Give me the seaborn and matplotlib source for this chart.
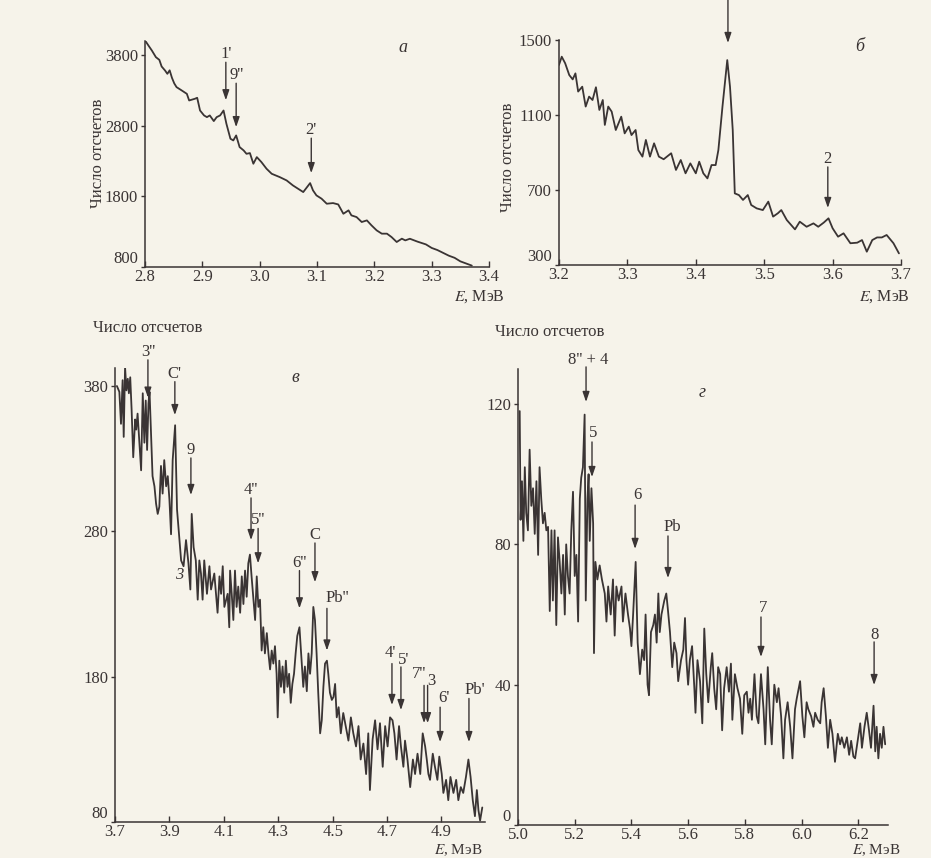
import matplotlib
matplotlib.use("Agg")
import matplotlib.pyplot as plt
import numpy as np
import pandas as pd
import seaborn as sns

# ---------------- spectra (energy in MeV, counts) ----------------
a_energy = [2.801, 2.806, 2.812, 2.819, 2.825, 2.829, 2.835, 2.839, 2.843, 2.847,
            2.851, 2.855, 2.864, 2.873, 2.877, 2.887, 2.891, 2.896, 2.903, 2.908,
            2.913, 2.920, 2.925, 2.931, 2.937, 2.942, 2.949, 2.954, 2.959, 2.965,
            2.972, 2.977, 2.983, 2.989, 2.995, 3.003, 3.012, 3.021, 3.035, 3.047,
            3.058, 3.067, 3.076, 3.088, 3.093, 3.099, 3.108, 3.117, 3.128, 3.137,
            3.146, 3.155, 3.160, 3.169, 3.178, 3.187, 3.195, 3.204, 3.213, 3.222,
            3.230, 3.239, 3.248, 3.254, 3.262, 3.275, 3.290, 3.300, 3.310, 3.320,
            3.330, 3.340, 3.350, 3.360, 3.370]
a_counts = [3997, 3936, 3865, 3771, 3733, 3639, 3582, 3535, 3585, 3479,
            3400, 3347, 3300, 3252, 3158, 3182, 3196, 3016, 2946, 2922,
            2946, 2866, 2922, 2946, 3016, 2828, 2616, 2592, 2663, 2498,
            2451, 2403, 2413, 2262, 2356, 2286, 2191, 2120, 2073, 2026,
            1955, 1908, 1861, 1988, 1885, 1814, 1767, 1696, 1705, 1686,
            1554, 1602, 1531, 1507, 1437, 1460, 1390, 1319, 1272, 1272,
            1224, 1154, 1201, 1177, 1200, 1160, 1120, 1070, 1040, 1000,
            960, 930, 880, 850, 820]

b_energy = [3.200, 3.204, 3.209, 3.215, 3.220, 3.224, 3.228, 3.234, 3.239, 3.244,
            3.249, 3.254, 3.259, 3.264, 3.267, 3.272, 3.277, 3.283, 3.291, 3.296,
            3.302, 3.306, 3.312, 3.316, 3.322, 3.327, 3.333, 3.339, 3.346, 3.353,
            3.364, 3.371, 3.378, 3.385, 3.392, 3.400, 3.405, 3.411, 3.417, 3.423,
            3.429, 3.433, 3.439, 3.446, 3.450, 3.454, 3.457, 3.463, 3.469, 3.476,
            3.481, 3.489, 3.498, 3.506, 3.513, 3.520, 3.525, 3.533, 3.545, 3.552,
            3.562, 3.572, 3.579, 3.587, 3.594, 3.600, 3.608, 3.616, 3.626, 3.636,
            3.643, 3.650, 3.658, 3.665, 3.672, 3.679, 3.689, 3.697]
b_counts = [1367, 1411, 1376, 1313, 1290, 1322, 1225, 1251, 1145, 1198,
            1180, 1248, 1127, 1180, 1047, 1145, 1118, 1020, 1091, 1002,
            1038, 993, 1020, 913, 878, 967, 878, 949, 878, 864,
            896, 807, 860, 789, 842, 789, 851, 789, 762, 833,
            833, 913, 1145, 1393, 1251, 1020, 682, 673, 647, 673,
            620, 602, 593, 638, 558, 576, 593, 540, 490, 531,
            504, 522, 504, 526, 549, 496, 451, 469, 416, 419,
            433, 371, 433, 447, 447, 460, 416, 362]

c_energy = [3.707, 3.716, 3.722, 3.728, 3.732, 3.737, 3.742, 3.747, 3.751, 3.756,
            3.761, 3.767, 3.774, 3.778, 3.783, 3.789, 3.796, 3.802, 3.808, 3.813,
            3.818, 3.823, 3.827, 3.832, 3.838, 3.845, 3.851, 3.857, 3.863, 3.869,
            3.875, 3.881, 3.888, 3.894, 3.900, 3.906, 3.912, 3.921, 3.928, 3.937,
            3.943, 3.952, 3.961, 3.970, 3.977, 3.982, 3.989, 3.997, 4.004, 4.010,
            4.016, 4.022, 4.028, 4.038, 4.047, 4.053, 4.065, 4.077, 4.084, 4.090,
            4.096, 4.102, 4.114, 4.120, 4.123, 4.129, 4.135, 4.141, 4.147, 4.153,
            4.160, 4.166, 4.172, 4.178, 4.184, 4.190, 4.196, 4.202, 4.209, 4.215,
            4.221, 4.227, 4.233, 4.239, 4.245, 4.251, 4.258, 4.264, 4.270, 4.276,
            4.282, 4.288, 4.294, 4.298, 4.304, 4.310, 4.316, 4.322, 4.328, 4.334,
            4.340, 4.346, 4.352, 4.358, 4.364, 4.370, 4.378, 4.386, 4.392, 4.398,
            4.405, 4.411, 4.417, 4.423, 4.429, 4.435, 4.441, 4.447, 4.454, 4.460,
            4.466, 4.472, 4.479, 4.484, 4.490, 4.497, 4.503, 4.509, 4.515, 4.522,
            4.530, 4.539, 4.548, 4.558, 4.567, 4.576, 4.586, 4.595, 4.603, 4.613,
            4.623, 4.631, 4.637, 4.647, 4.656, 4.665, 4.674, 4.684, 4.693, 4.702,
            4.711, 4.720, 4.727, 4.735, 4.744, 4.751, 4.760, 4.766, 4.775, 4.785,
            4.795, 4.803, 4.812, 4.822, 4.831, 4.840, 4.846, 4.852, 4.858, 4.868,
            4.876, 4.885, 4.892, 4.901, 4.907, 4.917, 4.925, 4.933, 4.944, 4.954,
            4.962, 4.971, 4.980, 4.990, 4.999, 5.007, 5.015, 5.023, 5.030, 5.036,
            5.042, 5.050]
c_counts = [380, 376, 354, 384, 345, 393, 377, 385, 375, 386,
            364, 331, 357, 350, 361, 343, 322, 375, 341, 370,
            336, 368, 376, 350, 318, 311, 299, 292, 297, 325,
            306, 329, 311, 318, 302, 278, 329, 353, 295, 274,
            260, 256, 274, 258, 240, 292, 269, 260, 233, 260,
            251, 233, 260, 237, 256, 240, 251, 224, 249, 237,
            256, 228, 237, 214, 253, 237, 219, 253, 228, 242,
            224, 249, 230, 253, 235, 258, 264, 249, 233, 219,
            249, 228, 233, 198, 214, 196, 210, 196, 185, 198,
            189, 201, 182, 152, 191, 173, 187, 169, 191, 173,
            182, 162, 175, 182, 196, 208, 214, 191, 173, 187,
            170, 196, 182, 196, 228, 219, 196, 169, 141, 150,
            173, 189, 191, 182, 169, 164, 166, 175, 152, 159,
            141, 155, 146, 136, 152, 141, 132, 146, 123, 134,
            113, 141, 102, 137, 150, 130, 148, 118, 146, 132,
            152, 150, 141, 123, 146, 132, 118, 136, 123, 104,
            123, 113, 127, 113, 141, 132, 123, 113, 109, 127,
            118, 109, 125, 113, 100, 109, 95, 111, 100, 109,
            95, 104, 100, 111, 123, 111, 95, 84, 102, 88,
            81, 90]

d_energy = [5.006, 5.009, 5.014, 5.019, 5.024, 5.029, 5.035, 5.041, 5.047, 5.053,
            5.059, 5.065, 5.071, 5.076, 5.082, 5.088, 5.094, 5.100, 5.106, 5.112,
            5.118, 5.123, 5.129, 5.135, 5.141, 5.147, 5.153, 5.159, 5.165, 5.170,
            5.176, 5.182, 5.188, 5.194, 5.200, 5.206, 5.212, 5.218, 5.223, 5.229,
            5.235, 5.239, 5.245, 5.249, 5.253, 5.259, 5.265, 5.268, 5.273, 5.280,
            5.288, 5.296, 5.306, 5.312, 5.318, 5.327, 5.335, 5.341, 5.347, 5.355,
            5.365, 5.370, 5.379, 5.388, 5.395, 5.400, 5.406, 5.415, 5.422, 5.430,
            5.438, 5.445, 5.450, 5.457, 5.462, 5.469, 5.477, 5.483, 5.489, 5.495,
            5.500, 5.506, 5.516, 5.523, 5.528, 5.536, 5.544, 5.551, 5.559, 5.565,
            5.575, 5.583, 5.589, 5.594, 5.600, 5.606, 5.614, 5.622, 5.626, 5.633,
            5.642, 5.650, 5.657, 5.664, 5.671, 5.680, 5.685, 5.692, 5.699, 5.706,
            5.713, 5.720, 5.727, 5.736, 5.744, 5.751, 5.756, 5.765, 5.774, 5.783,
            5.791, 5.798, 5.807, 5.813, 5.819, 5.825, 5.834, 5.842, 5.848, 5.857,
            5.866, 5.872, 5.881, 5.889, 5.895, 5.904, 5.913, 5.919, 5.928, 5.936,
            5.942, 5.951, 5.960, 5.968, 5.977, 5.983, 5.995, 6.003, 6.010, 6.018,
            6.024, 6.034, 6.042, 6.048, 6.057, 6.066, 6.071, 6.078, 6.086, 6.093,
            6.101, 6.109, 6.118, 6.128, 6.136, 6.142, 6.151, 6.160, 6.168, 6.175,
            6.183, 6.189, 6.198, 6.207, 6.213, 6.222, 6.230, 6.238, 6.245, 6.254,
            6.260, 6.265, 6.271, 6.277, 6.283, 6.289, 6.295]
d_counts = [118, 87, 98, 81, 102, 89, 84, 107, 91, 96,
            83, 98, 77, 102, 93, 86, 89, 84, 85, 61,
            84, 64, 84, 57, 82, 75, 66, 77, 60, 80,
            71, 66, 84, 95, 71, 77, 58, 93, 99, 102,
            117, 64, 93, 100, 81, 96, 86, 49, 75, 70,
            74, 70, 66, 58, 68, 60, 70, 54, 68, 64,
            68, 58, 66, 60, 56, 51, 60, 75, 52, 43,
            50, 47, 60, 40, 37, 55, 57, 60, 52, 66,
            55, 60, 64, 66, 62, 55, 45, 52, 49, 41,
            47, 50, 59, 47, 40, 47, 51, 39, 32, 47,
            41, 29, 56, 43, 35, 45, 49, 39, 33, 45,
            43, 27, 39, 45, 38, 46, 30, 43, 39, 36,
            26, 37, 38, 32, 36, 30, 43, 31, 29, 43,
            33, 23, 45, 30, 23, 40, 35, 39, 31, 19,
            30, 35, 28, 19, 33, 36, 41, 31, 25, 35,
            33, 31, 28, 32, 30, 29, 35, 39, 31, 22,
            30, 26, 18, 26, 23, 25, 22, 25, 20, 24,
            19.5, 19, 24, 29, 22, 28, 32, 27, 22, 34,
            21, 28, 19, 26, 22, 28, 23]

# ---------------- peak markers: label, energy, arrow tail, arrow tip ----------------
a_peaks = [("1'", 2.941, 3699, 3161), ("9''", 2.959, 3402, 2780), ("2'", 3.090, 2624, 2129)]
b_peaks = [("", 3.447, 1713, 1484), ("2", 3.593, 823, 604)]
c_peaks = [("3''", 3.821, 398, 372), ("C'", 3.920, 383, 360), ("9", 3.979, 330.5, 305),
           ("4''", 4.200, 303, 274), ("5''", 4.226, 282, 258), ("6''", 4.378, 253, 227),
           ("C", 4.435, 272, 245), ("Pb''", 4.479, 227, 198), ("4'", 4.718, 189, 160.5),
           ("5'", 4.751, 186.7, 157), ("7''", 4.836, 174, 148), ("3", 4.849, 174, 148),
           ("6'", 4.895, 159, 135), ("Pb'", 5.001, 165, 135)]
d_peaks = [("8'' + 4", 5.240, 130.6, 120.6), ("5", 5.261, 109.2, 99.2), ("6", 5.413, 91.2, 78.7),
           ("Pb", 5.529, 82.4, 70.4), ("7", 5.857, 59.3, 47.9), ("8", 6.256, 52.2, 39.9)]

# label anchors (energy, counts, horizontal alignment) for labels set beside their arrow
c_label_pos = {"Pb''": (4.516, 234, "center"), "4'": (4.733, 196, "right"),
               "5'": (4.741, 191.5, "left"), "7''": (4.845, 182, "right"),
               "3": (4.847, 177, "left"), "6'": (4.910, 165, "center"),
               "Pb'": (5.024, 171, "center")}
d_label_pos = {"8'' + 4": (5.247, 132.6, "center"), "5": (5.265, 111.7, "center"),
               "6": (5.420, 94, "center"), "Pb": (5.543, 85, "center"),
               "7": (5.864, 61.9, "center"), "8": (6.259, 54.2, "center")}

W, H = 931, 858
PAPER = "#f6f3ea"
INK = "#3a3434"

sns.set_theme(style="ticks")
plt.rcParams["font.family"] = ["Liberation Serif", "DejaVu Serif"]
plt.rcParams["mathtext.fontset"] = "stix"
plt.rcParams["text.color"] = INK
plt.rcParams["axes.edgecolor"] = INK
plt.rcParams["xtick.color"] = INK
plt.rcParams["ytick.color"] = INK

fig = plt.figure(figsize=(W / 100, H / 100), dpi=100, facecolor=PAPER)


def px_axes(left, right, top, bottom):
    ax = fig.add_axes([left / W, 1 - bottom / H, (right - left) / W, (bottom - top) / H])
    ax.set_facecolor("none")
    for s in ("top", "right"):
        ax.spines[s].set_visible(False)
    for s in ("left", "bottom"):
        ax.spines[s].set_linewidth(1.1)
    ax.tick_params(axis="x", direction="in", length=4, width=1, labelsize=12, pad=1.5)
    ax.tick_params(axis="y", direction="out", length=3, width=1, labelsize=12, pad=2)
    return ax


def draw_panel(ax, energy, counts, xlim, ylim, xticks, yticks, xfmt):
    df = pd.DataFrame({"E": energy, "N": counts})
    sns.lineplot(data=df, x="E", y="N", ax=ax, color=INK, linewidth=1.3,
                 estimator=None, sort=False)
    ax.set_xlim(*xlim)
    ax.set_ylim(*ylim)
    ax.set_xticks(xticks)
    ax.set_xticklabels([xfmt.format(t) for t in xticks])
    ax.set_yticks(yticks)
    ax.set_yticklabels([str(t) for t in yticks])
    ax.set_xlabel("")
    ax.set_ylabel("")


def draw_arrows(ax, peaks, label_pos=None, fs=12):
    label_pos = label_pos or {}
    for lab, x, tail, tip in peaks:
        ax.annotate("", xy=(x, tip), xytext=(x, tail), annotation_clip=False,
                    arrowprops=dict(arrowstyle="-|>,head_length=0.5,head_width=0.17",
                                    color=INK, lw=1.0, shrinkA=0, shrinkB=0))
        if lab:
            if lab in label_pos:
                lx, ly, ha = label_pos[lab]
                va = "center"
            else:
                lx, ly, ha, va = x, tail, "center", "bottom"
            ax.text(lx, ly, lab, ha=ha, va=va, fontsize=fs, clip_on=False)


# panel а
ax_a = px_axes(145, 489, 41, 267)
draw_panel(ax_a, a_energy, a_counts, (2.8, 3.4), (800, 4000),
           [2.8, 2.9, 3.0, 3.1, 3.2, 3.3, 3.4], [800, 1800, 2800, 3800], "{:.1f}")
ax_a.get_yticklabels()[0].set_verticalalignment("bottom")
draw_arrows(ax_a, a_peaks)
ax_a.text(3.25, 3911, "а", style="italic", fontsize=13, ha="center", va="center")

# panel б
ax_b = px_axes(559, 901, 40, 265)
draw_panel(ax_b, b_energy, b_counts, (3.2, 3.7), (300, 1500),
           [3.2, 3.3, 3.4, 3.5, 3.6, 3.7], [300, 700, 1100, 1500], "{:.1f}")
ax_b.get_yticklabels()[0].set_verticalalignment("bottom")
draw_arrows(ax_b, b_peaks)
ax_b.text(3.639, 1463, "б", style="italic", fontsize=13, ha="center", va="center")

# panel в
ax_c = px_axes(115, 485, 368, 822)
draw_panel(ax_c, c_energy, c_counts, (3.7, 5.06), (80, 392.4),
           [3.7, 3.9, 4.1, 4.3, 4.5, 4.7, 4.9], [80, 180, 280, 380], "{:.1f}")
# the lowest count label sits just above the corner so it clears the first energy label
ax_c.get_yticklabels()[0].set_verticalalignment("bottom")
draw_arrows(ax_c, c_peaks, c_label_pos)
ax_c.text(4.362, 386, "в", style="italic", fontsize=13, ha="center", va="center")
ax_c.text(3.935, 250, "3", style="italic", fontsize=12, ha="center", va="center")

# panel г
ax_d = px_axes(518, 888, 369, 825)
draw_panel(ax_d, d_energy, d_counts, (5.0, 6.305), (0, 130),
           [5.0, 5.2, 5.4, 5.6, 5.8, 6.0, 6.2], [0, 40, 80, 120], "{:.1f}")
ax_d.get_yticklabels()[0].set_verticalalignment("bottom")
draw_arrows(ax_d, d_peaks, d_label_pos)
ax_d.text(5.649, 123.4, "г", style="italic", fontsize=13, ha="center", va="center")

# axis captions
ylab = "Число отсчетов"
fig.text(98 / W, 1 - 153 / H, ylab, rotation=90, ha="center", va="center", fontsize=12)
fig.text(508 / W, 1 - 157 / H, ylab, rotation=90, ha="center", va="center", fontsize=12)
fig.text(93 / W, 1 - 328 / H, ylab, ha="left", va="center", fontsize=12)
fig.text(495 / W, 1 - 332 / H, ylab, ha="left", va="center", fontsize=12)

xlab = "$E$, МэВ"
for xr, yc, fs in [(505, 297, 11.5), (910, 297, 11.5), (482, 850, 11), (900, 850.5, 11)]:
    fig.text(xr / W, 1 - yc / H, xlab, ha="right", va="center", fontsize=fs)

fig.savefig("out.png", dpi=100, facecolor=PAPER)
